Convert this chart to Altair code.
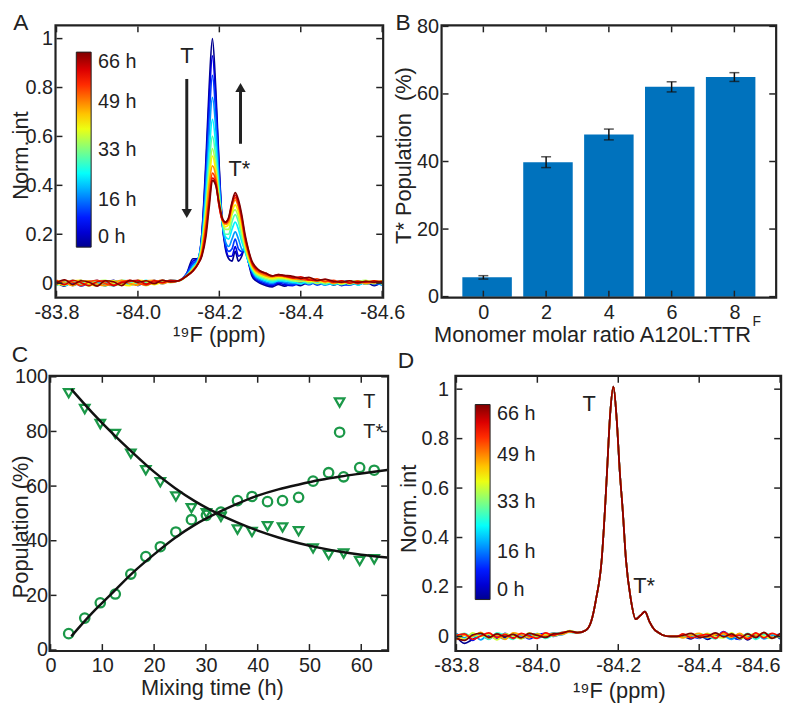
import altair as alt
import pandas as pd

# ---------------- data ----------------
# Panel A: 19F spectra of TTR(F) mixed with A120L, coloured by mixing time (h)
A_TIMES = [0, 6, 12, 18, 24, 30, 36, 42, 48, 54, 60, 66]
BASE_LEFT_PPM = [-83.80, -83.82, -83.84, -83.86, -83.88, -83.90, -83.92, -83.94,
                 -83.96, -83.98, -84.00, -84.02, -84.04, -84.06, -84.08]
BASE_RIGHT_PPM = [-84.36, -84.38, -84.40, -84.42, -84.44, -84.46, -84.48,
                  -84.50, -84.52, -84.54, -84.56, -84.58, -84.60]
A_PEAK_PPM = [-84.10, -84.12, -84.135, -84.148, -84.157, -84.167, -84.175, -84.183,
              -84.191, -84.199, -84.207, -84.215, -84.223, -84.231, -84.239, -84.247,
              -84.255, -84.263, -84.271, -84.28, -84.29, -84.30, -84.315, -84.33, -84.345]
A_PEAK = [
    [0.01, 0.04, 0.10, 0.10, 0.20, 0.50, 0.80, 1.00, 0.80, 0.50, 0.25, 0.14, 0.10, 0.09, 0.13, 0.09, 0.11, 0.15, 0.09, 0.03, 0.01, 0.00, -0.01, -0.015, -0.005],
    [0.01, 0.04, 0.09, 0.10, 0.20, 0.47, 0.75, 0.93, 0.76, 0.48, 0.25, 0.15, 0.11, 0.11, 0.15, 0.11, 0.12, 0.15, 0.09, 0.04, 0.015, 0.005, -0.005, -0.01, 0.0],
    [0.01, 0.04, 0.08, 0.10, 0.19, 0.43, 0.68, 0.85, 0.70, 0.45, 0.25, 0.16, 0.13, 0.14, 0.18, 0.14, 0.13, 0.14, 0.09, 0.045, 0.02, 0.01, 0.0, -0.005, 0.005],
    [0.01, 0.035, 0.07, 0.10, 0.18, 0.39, 0.61, 0.76, 0.64, 0.42, 0.25, 0.17, 0.15, 0.18, 0.21, 0.18, 0.14, 0.13, 0.09, 0.05, 0.025, 0.015, 0.005, 0.0, 0.01],
    [0.01, 0.03, 0.065, 0.095, 0.17, 0.35, 0.54, 0.67, 0.57, 0.39, 0.25, 0.19, 0.18, 0.22, 0.25, 0.22, 0.17, 0.13, 0.09, 0.055, 0.03, 0.02, 0.01, 0.005, 0.01],
    [0.01, 0.03, 0.06, 0.09, 0.16, 0.32, 0.49, 0.60, 0.52, 0.37, 0.26, 0.20, 0.20, 0.25, 0.28, 0.25, 0.19, 0.14, 0.10, 0.06, 0.035, 0.025, 0.015, 0.01, 0.015],
    [0.01, 0.03, 0.06, 0.09, 0.15, 0.30, 0.45, 0.55, 0.48, 0.35, 0.26, 0.22, 0.22, 0.28, 0.30, 0.27, 0.21, 0.15, 0.10, 0.065, 0.04, 0.03, 0.02, 0.015, 0.02],
    [0.01, 0.03, 0.055, 0.085, 0.14, 0.28, 0.42, 0.52, 0.46, 0.34, 0.26, 0.23, 0.24, 0.29, 0.32, 0.29, 0.23, 0.16, 0.11, 0.07, 0.045, 0.035, 0.025, 0.02, 0.025],
    [0.01, 0.03, 0.055, 0.085, 0.13, 0.26, 0.40, 0.48, 0.44, 0.33, 0.26, 0.24, 0.25, 0.31, 0.34, 0.31, 0.25, 0.17, 0.12, 0.075, 0.05, 0.04, 0.03, 0.025, 0.03],
    [0.01, 0.03, 0.05, 0.08, 0.12, 0.23, 0.35, 0.45, 0.42, 0.32, 0.26, 0.245, 0.26, 0.32, 0.35, 0.32, 0.26, 0.18, 0.13, 0.08, 0.055, 0.045, 0.035, 0.03, 0.03],
    [0.01, 0.03, 0.05, 0.08, 0.115, 0.21, 0.33, 0.43, 0.41, 0.32, 0.26, 0.25, 0.265, 0.325, 0.36, 0.33, 0.27, 0.19, 0.135, 0.085, 0.06, 0.05, 0.04, 0.03, 0.035],
    [0.01, 0.03, 0.05, 0.08, 0.11, 0.19, 0.31, 0.42, 0.40, 0.33, 0.27, 0.25, 0.27, 0.33, 0.37, 0.34, 0.28, 0.20, 0.14, 0.09, 0.065, 0.05, 0.04, 0.03, 0.035],
]
A_LEFT = [
    [0.004, -0.012, 0.010, -0.004, 0.006, -0.010, 0.002, 0.012, -0.006, 0.004, -0.008, 0.010, 0.002, 0.008, 0.006],
    [-0.008, 0.006, -0.004, 0.012, -0.010, 0.004, 0.008, -0.006, 0.010, -0.002, 0.006, -0.004, 0.012, 0.000, 0.010],
    [0.010, -0.004, 0.008, -0.012, 0.002, 0.012, -0.008, 0.004, -0.002, 0.010, -0.010, 0.006, -0.002, 0.012, 0.004],
    [-0.002, 0.012, -0.010, 0.004, 0.010, -0.006, 0.006, -0.012, 0.008, 0.000, 0.012, -0.006, 0.008, -0.002, 0.012],
    [0.008, -0.010, 0.004, 0.010, -0.008, 0.002, -0.012, 0.010, 0.004, -0.008, 0.002, 0.012, -0.004, 0.010, 0.006],
    [-0.010, 0.004, 0.012, -0.006, 0.004, 0.010, -0.004, -0.010, 0.012, 0.006, -0.006, 0.002, 0.010, 0.004, 0.012],
    [0.006, 0.010, -0.008, 0.002, -0.012, 0.008, 0.012, -0.002, -0.008, 0.010, 0.004, -0.010, 0.006, 0.012, 0.002],
    [0.000, -0.008, 0.010, 0.012, -0.004, -0.010, 0.006, 0.010, -0.004, -0.010, 0.012, 0.008, -0.006, 0.004, 0.010],
    [0.012, 0.002, -0.010, 0.006, 0.010, -0.004, -0.010, 0.004, 0.012, -0.002, -0.008, 0.010, 0.012, -0.002, 0.008],
    [-0.006, 0.012, 0.004, -0.010, 0.006, 0.012, -0.002, -0.008, 0.006, 0.012, 0.000, -0.008, 0.004, 0.012, 0.004],
    [0.010, -0.006, 0.012, 0.002, -0.010, 0.006, 0.010, -0.010, 0.002, 0.008, 0.012, -0.004, 0.010, 0.002, 0.012],
    [0.002, 0.014, -0.006, 0.010, 0.004, -0.012, 0.010, 0.006, -0.010, 0.012, 0.004, 0.010, -0.002, 0.012, 0.006],
]
A_RIGHT = [
    [-0.012, 0.000, -0.010, 0.006, -0.004, 0.008, -0.008, 0.004, 0.010, -0.006, 0.004, -0.010, 0.006],
    [-0.006, -0.010, 0.004, -0.006, 0.008, -0.002, 0.006, -0.010, 0.002, 0.008, -0.004, 0.006, -0.008],
    [0.000, -0.006, -0.002, 0.008, -0.008, 0.004, 0.010, -0.004, -0.008, 0.006, 0.010, -0.006, 0.002],
    [0.004, 0.000, 0.008, -0.004, 0.006, -0.008, 0.002, 0.010, -0.006, 0.000, 0.008, 0.004, -0.008],
    [0.010, 0.004, -0.002, 0.010, 0.000, 0.008, -0.006, 0.002, 0.010, -0.008, 0.006, 0.000, 0.010],
    [0.014, 0.008, 0.012, 0.000, 0.010, -0.004, 0.008, -0.006, 0.004, 0.010, -0.004, 0.008, 0.002],
    [0.018, 0.012, 0.006, 0.014, -0.002, 0.010, 0.002, 0.010, -0.004, 0.006, 0.012, -0.002, 0.008],
    [0.022, 0.016, 0.020, 0.006, 0.012, 0.002, 0.010, -0.002, 0.008, 0.002, 0.006, 0.010, -0.004],
    [0.026, 0.018, 0.014, 0.020, 0.008, 0.014, -0.002, 0.008, 0.004, 0.010, -0.002, 0.006, 0.010],
    [0.028, 0.024, 0.016, 0.012, 0.018, 0.006, 0.012, 0.002, 0.010, -0.002, 0.008, 0.002, 0.006],
    [0.030, 0.022, 0.026, 0.014, 0.010, 0.016, 0.004, 0.010, 0.000, 0.008, 0.004, 0.010, 0.002],
    [0.032, 0.028, 0.020, 0.024, 0.012, 0.016, 0.008, 0.004, 0.010, 0.002, 0.008, 0.004, 0.006],
]

# Panel D: control spectra (no change with time)
D_TIMES = [0, 9, 19, 28, 38, 47, 57, 66]
D_PEAK_PPM = [-84.10, -84.12, -84.133, -84.145, -84.159, -84.167, -84.172, -84.180, -84.188,
              -84.196, -84.204, -84.211, -84.219, -84.231, -84.243, -84.255, -84.266, -84.277,
              -84.288, -84.30, -84.311, -84.33, -84.345]
D_PEAK = [0.015, 0.025, 0.06, 0.15, 0.31, 0.51, 0.66, 0.90, 1.01, 0.88, 0.66, 0.51, 0.31,
          0.15, 0.07, 0.085, 0.10, 0.06, 0.03, 0.015, 0.005, 0.0, 0.0]
D_LEFT = [
    [0.000, -0.028, -0.012, 0.004, -0.010, 0.008, -0.004, 0.006, -0.008, 0.004, 0.010, -0.002, 0.008, 0.014, 0.020],
    [-0.010, 0.006, -0.016, 0.010, 0.002, -0.008, 0.012, -0.006, 0.004, -0.010, 0.006, 0.012, 0.000, 0.010, 0.018],
    [0.012, -0.006, 0.008, -0.014, 0.010, 0.000, -0.010, 0.010, 0.002, 0.008, -0.006, 0.004, 0.014, 0.006, 0.022],
    [-0.004, 0.012, -0.002, 0.006, -0.012, 0.014, 0.004, -0.012, 0.010, -0.004, 0.012, -0.008, 0.006, 0.016, 0.016],
    [0.008, -0.012, 0.014, 0.000, 0.008, -0.014, 0.010, 0.002, -0.010, 0.014, 0.000, 0.010, 0.002, 0.012, 0.024],
    [-0.014, 0.004, 0.000, 0.016, -0.006, 0.006, -0.012, 0.014, 0.006, -0.006, 0.010, 0.002, 0.012, 0.008, 0.018],
    [0.004, 0.010, -0.012, 0.002, 0.014, -0.004, 0.008, -0.008, 0.012, 0.002, -0.008, 0.014, 0.004, 0.016, 0.020],
    [-0.008, -0.016, 0.006, 0.012, -0.004, 0.010, 0.000, 0.008, -0.006, 0.012, 0.004, -0.004, 0.010, 0.012, 0.022],
]
D_RIGHT = [
    [0.000, -0.010, 0.006, -0.012, 0.004, 0.012, -0.008, 0.010, -0.014, 0.006, -0.004, 0.010, -0.010],
    [0.006, 0.000, -0.008, 0.010, -0.004, 0.020, -0.002, -0.012, 0.008, -0.008, 0.012, -0.006, 0.004],
    [-0.004, 0.008, 0.000, -0.006, 0.012, 0.004, -0.012, 0.006, 0.000, 0.012, -0.010, 0.002, 0.010],
    [0.008, -0.004, 0.010, 0.002, -0.010, 0.014, 0.006, -0.006, 0.012, -0.012, 0.006, 0.010, -0.006],
    [0.002, 0.010, -0.006, 0.012, 0.000, -0.006, 0.014, -0.010, 0.004, 0.010, 0.000, -0.008, 0.008],
    [-0.006, 0.004, 0.012, -0.004, 0.008, 0.010, -0.004, 0.012, -0.006, 0.002, 0.014, -0.004, 0.002],
    [0.010, -0.006, 0.002, 0.008, -0.008, 0.018, 0.002, 0.004, -0.010, 0.014, -0.006, 0.012, -0.002],
    [0.004, 0.012, -0.004, 0.000, 0.014, -0.002, 0.010, -0.008, 0.010, -0.004, 0.016, -0.008, 0.012],
]

# Panel B: T* population vs monomer molar ratio
B_RATIO = [0, 2, 4, 6, 8]
B_TSTAR = [5.7, 39.8, 48.0, 62.1, 65.0]
B_ERR = [0.5, 1.6, 1.6, 1.5, 1.3]

# Panel C: populations vs mixing time, with fitted curves
C_TIME = [3.5, 6.6, 9.6, 12.5, 15.5, 18.4, 21.2, 24.2, 27.2, 30.1, 32.9,
          36.1, 38.9, 41.9, 44.8, 47.9, 50.7, 53.7, 56.6, 59.7, 62.5]
C_T = [94.0, 88.2, 82.7, 79.1, 71.9, 65.8, 61.4, 56.2, 51.9, 50.1, 48.7,
       44.1, 43.2, 45.3, 44.9, 43.5, 37.2, 34.8, 35.3, 32.6, 33.2]
C_TSTAR = [6.0, 11.7, 17.3, 20.5, 27.8, 34.2, 37.8, 43.2, 47.7, 49.3, 50.5,
           54.7, 56.2, 54.3, 54.7, 55.9, 61.8, 64.9, 63.4, 66.8, 65.8]
FIT_TIME = [4, 8, 12, 16, 20, 24, 28, 32, 36, 40, 44, 48, 52, 56, 60, 65]
FIT_T = [95.5, 87.0, 79.2, 72.0, 65.2, 59.3, 54.3, 50.2, 46.7, 43.7, 41.2, 39.1, 37.4, 36.0, 34.9, 33.9]
FIT_TSTAR = [5.0, 13.5, 21.0, 28.5, 35.0, 41.0, 46.0, 50.0, 53.5, 56.5, 58.8, 60.6, 62.2, 63.5, 64.6, 65.9]

# Colour bar (jet) and tick values
JET_STOPS = [0, 8.25, 24.75, 41.25, 57.75, 66]
JET_COLORS = ["#00008f", "#0000ff", "#00ffff", "#ffff00", "#ff0000", "#800000"]
CBAR_TICKS = [0, 16, 33, 49, 66]
PPM_TICKS = [-83.8, -84.0, -84.2, -84.4, -84.6]
INT_TICKS = [0, 0.2, 0.4, 0.6, 0.8, 1]
B_YTICKS = [0, 20, 40, 60, 80]
C_XTICKS = [0, 10, 20, 30, 40, 50, 60]
C_YTICKS = [0, 20, 40, 60, 80, 100]
PANELS = ["A", "B", "C", "D"]

# ---------------- layout / style ----------------
W, H = 792, 700
FONT = "Liberation Sans"
INK = "#222222"
GREEN = "#1b9848"
BAR = "#0072BD"
NB = "\u00a0"
# plot boxes in view pixels: (left, right, top, bottom)
A_BOX = (49, 378, 15, 288)
B_BOX = (439, 775, 15, 288)
C_BOX = (43, 383, 369, 645)
D_BOX = (453, 780, 369, 645)
PPM_DOM = [-84.6, -83.8]
INT_DOM = [-0.055, 1.05]
B_XDOM = [-1.3, 9.3]
B_YDOM = [0, 80]
C_XDOM = [0, 65]
C_YDOM = [0, 100]


def sx(dom, box, rev=False):
    rng = [box[1], box[0]] if rev else [box[0], box[1]]
    return alt.Scale(domain=dom, range=rng, nice=False, zero=False)


def sy(dom, box):
    return alt.Scale(domain=dom, range=[box[3], box[2]], nice=False, zero=False)


STYLE = dict(grid=False, domain=False, ticks=False,
             labelFont=FONT, labelFontSize=20, labelColor=INK,
             titleFont=FONT, titleFontSize=22, titleFontWeight="normal", titleColor=INK,
             labelOverlap=False)


def axes_layer(box, xdom, ydom, xrev, xvals, yvals, xfmt, yfmt, xtitle, ytitle,
               xt_pos, yt_pos, xpad, ypad, last_right=False):
    xl, xr, yt, yb = box
    df = pd.DataFrame({"fx": xdom, "fy": ydom})
    lab = "replace(datum.label, '\u2212', '-')"
    extra = {}
    if last_right:
        extra["labelAlign"] = {"condition": {"test": "datum.value < -84.55", "value": "right"},
                               "value": "center"}
    ax = alt.Axis(orient="bottom", offset=yb - H, values=xvals, format=xfmt, labelExpr=lab,
                  labelPadding=xpad, labelFlush=False, title=xtitle, titleX=xt_pos[0] - 8,
                  titleY=xt_pos[1] - 8 - yb, titleAlign="center", titleBaseline="middle",
                  **STYLE, **extra)
    ay = alt.Axis(orient="left", offset=-xl, values=yvals, format=yfmt,
                  labelPadding=ypad, labelFlush=False, title=ytitle,
                  titleX=yt_pos[0] - 8 - xl, titleY=yt_pos[1] - 8,
                  titleAlign="center", titleBaseline="middle", **STYLE)
    return alt.Chart(df).mark_point(size=0, opacity=0).encode(
        x=alt.X("fx:Q", scale=sx(xdom, box, xrev), axis=ax),
        y=alt.Y("fy:Q", scale=sy(ydom, box), axis=ay))


def frame_layers(tag, box, xdom, ydom, xrev, xvals, yvals):
    """Panel outline (layout, in pixels) plus inward ticks at the tick values."""
    xl, xr, yt, yb = box
    xs = sx(xdom, box, xrev)
    ys = sy(ydom, box)
    out = []
    out.append(alt.Chart(pd.DataFrame({"panel": [tag]})).mark_rect(
        fill="transparent", stroke=INK, strokeWidth=2.2).encode(
        x=alt.value(xl - 1), x2=alt.value(xr + 1), y=alt.value(yt - 1), y2=alt.value(yb + 1)))
    xt = pd.DataFrame({"tv": xvals})
    yv = pd.DataFrame({"tv": yvals})
    tk = dict(color=INK, strokeWidth=1.5)
    out.append(alt.Chart(xt).mark_rule(**tk).encode(
        x=alt.X("tv:Q", scale=xs, axis=None), y=alt.value(yb), y2=alt.value(yb - 6)))
    out.append(alt.Chart(xt).mark_rule(**tk).encode(
        x=alt.X("tv:Q", scale=xs, axis=None), y=alt.value(yt), y2=alt.value(yt + 6)))
    out.append(alt.Chart(yv).mark_rule(**tk).encode(
        y=alt.Y("tv:Q", scale=ys, axis=None), x=alt.value(xl), x2=alt.value(xl + 6)))
    out.append(alt.Chart(yv).mark_rule(**tk).encode(
        y=alt.Y("tv:Q", scale=ys, axis=None), x=alt.value(xr), x2=alt.value(xr - 6)))
    return out


def spectra_df(times, left, peak_ppm, peaks, right):
    rows = []
    for k, t in enumerate(times):
        xs = BASE_LEFT_PPM + peak_ppm + BASE_RIGHT_PPM
        pk = peaks[k] if isinstance(peaks[0], list) else peaks
        ys = left[k] + pk + right[k]
        for x, y in zip(xs, ys):
            rows.append({"ppm": x, "intensity": y, "time": t})
    return pd.DataFrame(rows)


def spectra_layer(df, box, legend_xy):
    jet = alt.Scale(domain=JET_STOPS, range=JET_COLORS, interpolate="rgb")
    return alt.Chart(df).mark_line(strokeWidth=1.7, interpolate="monotone").encode(
        x=alt.X("ppm:Q", scale=sx(PPM_DOM, box, True), axis=None),
        y=alt.Y("intensity:Q", scale=sy(INT_DOM, box), axis=None),
        color=alt.Color("time:Q", scale=jet, legend=alt.Legend(
            orient="none", legendX=legend_xy[0], legendY=legend_xy[1], direction="vertical",
            gradientLength=197, gradientThickness=15, title=None, values=CBAR_TICKS,
            labelExpr="datum.value + ' h'", labelFont=FONT, labelFontSize=20,
            labelColor=INK, labelOffset=7, labelBaseline="middle", padding=0,
            gradientStrokeColor=INK, gradientStrokeWidth=1)),
    )


def text_layer(df, box, xdom, ydom, xrev, size=22):
    return alt.Chart(df).mark_text(font=FONT, fontSize=size, color=INK).encode(
        x=alt.X("x:Q", scale=sx(xdom, box, xrev), axis=None),
        y=alt.Y("y:Q", scale=sy(ydom, box), axis=None),
        text="label:N")


layers = []

# ---- panel A ----
dfA = spectra_df(A_TIMES, A_LEFT, A_PEAK_PPM, A_PEAK, A_RIGHT)
layers.append(spectra_layer(dfA, A_BOX, (69, 41)))
arrows = pd.DataFrame({"x": [-84.12, -84.252], "y": [0.835, 0.57], "y2": [0.285, 0.80],
                       "shape": ["triangle-down", "triangle-up"]})
layers.append(alt.Chart(arrows).mark_rule(color=INK, strokeWidth=3).encode(
    x=alt.X("x:Q", scale=sx(PPM_DOM, A_BOX, True), axis=None),
    y=alt.Y("y:Q", scale=sy(INT_DOM, A_BOX), axis=None), y2="y2:Q"))
layers.append(alt.Chart(arrows).mark_point(filled=True, color=INK, size=110, opacity=1).encode(
    x=alt.X("x:Q", scale=sx(PPM_DOM, A_BOX, True), axis=None),
    y=alt.Y("y2:Q", scale=sy(INT_DOM, A_BOX), axis=None),
    shape=alt.Shape("shape:N", scale=None)))
layers.append(text_layer(pd.DataFrame({"x": [-84.12, -84.249], "y": [0.928, 0.466],
                                       "label": ["T", "T*"]}),
                         A_BOX, PPM_DOM, INT_DOM, True))

# ---- panel B ----
dfB = pd.DataFrame({"ratio": B_RATIO, "pop": B_TSTAR, "err": B_ERR})
bx = sx(B_XDOM, B_BOX)
by = sy(B_YDOM, B_BOX)
layers.append(alt.Chart(dfB).mark_bar(size=50, color=BAR).encode(
    x=alt.X("ratio:Q", scale=bx, axis=None), y=alt.Y("pop:Q", scale=by, axis=None)))
errB = alt.Chart(dfB).transform_calculate(lo="datum.pop - datum.err", hi="datum.pop + datum.err")
layers.append(errB.mark_rule(color="#111111", strokeWidth=1.5).encode(
    x=alt.X("ratio:Q", scale=bx, axis=None), y=alt.Y("lo:Q", scale=by, axis=None), y2="hi:Q"))
layers.append(errB.mark_tick(orient="horizontal", size=10, thickness=1.5, color="#111111").encode(
    x=alt.X("ratio:Q", scale=bx, axis=None), y=alt.Y("lo:Q", scale=by, axis=None)))
layers.append(errB.mark_tick(orient="horizontal", size=10, thickness=1.5, color="#111111").encode(
    x=alt.X("ratio:Q", scale=bx, axis=None), y=alt.Y("hi:Q", scale=by, axis=None)))
layers.append(alt.Chart(pd.DataFrame({"label": ["F"]})).mark_text(
    font=FONT, fontSize=14, color=INK, align="left").encode(
    x=alt.value(752), y=alt.value(314), text="label:N"))

# ---- panel C ----
dfC = pd.DataFrame({"time": C_TIME * 2, "value": C_T + C_TSTAR,
                    "series": ["T"] * len(C_TIME) + ["T*"] * len(C_TIME)})
cx = sx(C_XDOM, C_BOX)
cy = sy(C_YDOM, C_BOX)
layers.append(alt.Chart(dfC).mark_point(filled=False, color=GREEN, strokeWidth=2.3,
                                        size=90, opacity=1).encode(
    x=alt.X("time:Q", scale=cx, axis=None),
    y=alt.Y("value:Q", scale=cy, axis=None),
    shape=alt.Shape("series:N", scale=alt.Scale(domain=["T", "T*"],
                                                range=["triangle-down", "circle"]),
                    legend=alt.Legend(orient="none", legendX=325, legendY=385, title=None,
                                      labelFont=FONT, labelFontSize=20, labelColor=INK,
                                      symbolSize=90, symbolStrokeWidth=2.3,
                                      symbolStrokeColor=GREEN, symbolFillColor="transparent",
                                      rowPadding=10, labelOffset=14, padding=0))))
dfFit = pd.DataFrame({"time": FIT_TIME * 2, "value": FIT_T + FIT_TSTAR,
                      "series": ["T"] * len(FIT_TIME) + ["T*"] * len(FIT_TIME)})
layers.append(alt.Chart(dfFit).mark_line(color="#111111", strokeWidth=2.5,
                                         interpolate="monotone").encode(
    x=alt.X("time:Q", scale=cx, axis=None),
    y=alt.Y("value:Q", scale=cy, axis=None),
    detail="series:N"))

# ---- panel D ----
dfD = spectra_df(D_TIMES, D_LEFT, D_PEAK_PPM, D_PEAK, D_RIGHT)
layers.append(spectra_layer(dfD, D_BOX, (472, 397)))
layers.append(text_layer(pd.DataFrame({"x": [-84.128, -84.264], "y": [0.94, 0.205],
                                       "label": ["T", "T*"]}),
                         D_BOX, PPM_DOM, INT_DOM, True))

# ---- tick labels and titles ----
layers.append(axes_layer(A_BOX, PPM_DOM, INT_DOM, True, PPM_TICKS, INT_TICKS, ".1f", "~g",
                         "\u00b9\u2079F (ppm)", "Norm. int", (221, 334), (21, 153), 6, 4))
layers.append(axes_layer(B_BOX, B_XDOM, B_YDOM, False, B_RATIO, B_YTICKS, "d", "d",
                         "Monomer molar ratio A120L:TTR", "T* Population" + NB + NB + "(%)",
                         (598, 334), (408, 153), 6, 4))
layers.append(axes_layer(C_BOX, C_XDOM, C_YDOM, False, C_XTICKS, C_YTICKS, "d", "d",
                         "Mixing time (h)", "Population (%)", (214, 691), (21, 528), 6, 3))
layers.append(axes_layer(D_BOX, PPM_DOM, INT_DOM, True, PPM_TICKS, INT_TICKS, ".1f", "~g",
                         "\u00b9\u2079F (ppm)", "Norm. int", (625, 694), (413, 510), 6, 8,
                         last_right=True))

# ---- panel letters ----
for letter, px, py in zip(PANELS, [13, 399, 12, 402], [12, 12, 347, 353]):
    layers.append(alt.Chart(pd.DataFrame({"label": [letter]})).mark_text(
        font=FONT, fontSize=23, color=INK).encode(
        x=alt.value(px), y=alt.value(py), text="label:N"))

# ---- panel frames and inward ticks (drawn last) ----
layers += frame_layers("A", A_BOX, PPM_DOM, INT_DOM, True, PPM_TICKS, INT_TICKS)
layers += frame_layers("B", B_BOX, B_XDOM, B_YDOM, False, B_RATIO, B_YTICKS)
layers += frame_layers("C", C_BOX, C_XDOM, C_YDOM, False, C_XTICKS, C_YTICKS)
layers += frame_layers("D", D_BOX, PPM_DOM, INT_DOM, True, PPM_TICKS, INT_TICKS)

chart = alt.layer(*layers).resolve_scale(
    x="independent", y="independent", color="independent", shape="independent"
).resolve_axis(x="independent", y="independent").resolve_legend(
    color="independent", shape="independent"
).properties(width=W, height=H, padding=0, autosize=alt.AutoSizeParams(type="none")
).configure_view(stroke=None)

chart.save("out.html", embed_options={"renderer": "svg", "actions": False})
